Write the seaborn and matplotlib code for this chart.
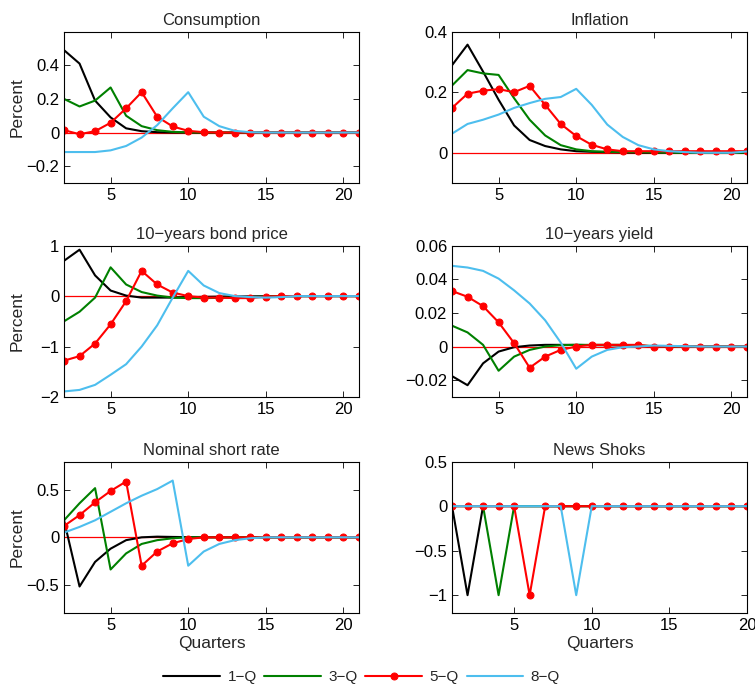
import matplotlib
import numpy as np
import pandas as pd

matplotlib.use("Agg")
import matplotlib.pyplot as plt
import seaborn as sns
from matplotlib.ticker import FuncFormatter

# horizons
quarters = list(range(2, 22))
news_quarters = list(range(1, 21))

# Consumption
cons_1q = [0.49, 0.41, 0.19, 0.09, 0.025, 0.008, 0.002, 0, 0, 0, 0, 0, 0, 0, 0, 0, 0, 0, 0, 0]
cons_3q = [0.20, 0.155, 0.19, 0.268, 0.10, 0.038, 0.014, 0.004, 0.001, 0, 0, 0, 0, 0, 0, 0, 0, 0, 0, 0]
cons_5q = [0.014, -0.01, 0.008, 0.058, 0.144, 0.24, 0.094, 0.036, 0.01, 0.002, 0, 0, 0, 0, 0, 0, 0, 0, 0, 0]
cons_8q = [-0.116, -0.116, -0.116, -0.106, -0.08, -0.03, 0.044, 0.144, 0.24, 0.094, 0.038, 0.01, 0.002, 0, 0, 0, 0, 0, 0, 0]

# Inflation
infl_1q = [0.289, 0.357, 0.268, 0.175, 0.09, 0.042, 0.022, 0.011, 0.005, 0.003, 0.002, 0.001, 0, 0, 0, 0, 0, 0, 0, 0]
infl_3q = [0.222, 0.273, 0.262, 0.257, 0.18, 0.109, 0.057, 0.025, 0.011, 0.005, 0.003, 0.002, 0.002, 0.001, 0, 0, 0, 0, 0, 0]
infl_5q = [0.148, 0.195, 0.205, 0.21, 0.20, 0.221, 0.158, 0.095, 0.055, 0.026, 0.011, 0.005, 0.005, 0.005, 0.005, 0.005, 0.005, 0.005, 0.005, 0.005]
infl_8q = [0.063, 0.095, 0.109, 0.126, 0.148, 0.164, 0.178, 0.184, 0.211, 0.158, 0.093, 0.052, 0.025, 0.011, 0.005, 0.002, 0, 0, 0, 0.004]

# 10-years bond price
bond_1q = [0.70, 0.92, 0.41, 0.11, 0.01, -0.03, -0.03, -0.03, -0.02, -0.015, -0.01, -0.008, -0.005, -0.003, -0.002, -0.001, 0, 0, 0, 0]
bond_3q = [-0.50, -0.31, -0.03, 0.57, 0.23, 0.08, 0.01, -0.03, -0.04, -0.04, -0.035, -0.03, -0.02, -0.01, -0.005, 0, 0, 0, 0, 0]
bond_5q = [-1.28, -1.19, -0.94, -0.56, -0.10, 0.50, 0.23, 0.07, 0.0, -0.03, -0.03, -0.04, -0.04, -0.01, 0, 0, 0, 0, 0, 0]
bond_8q = [-1.89, -1.86, -1.76, -1.56, -1.35, -1.00, -0.58, -0.03, 0.50, 0.21, 0.06, 0.0, -0.02, -0.03, -0.02, 0, 0, 0, 0, 0]

# 10-years yield
yld_1q = [-0.0176, -0.023, -0.010, -0.003, -0.0004, 0.0006, 0.001, 0.001, 0.001, 0.0008, 0.0008, 0.0006, 0.0004, 0.0002, 0, 0, 0, 0, 0, 0]
yld_3q = [0.0124, 0.0084, 0.001, -0.0144, -0.006, -0.002, 0.0, 0.0008, 0.001, 0.001, 0.001, 0.001, 0.0006, 0.0003, 0, 0, 0, 0, 0, 0]
yld_5q = [0.033, 0.0296, 0.024, 0.0144, 0.002, -0.0126, -0.006, -0.002, 0.0, 0.001, 0.001, 0.001, 0.001, 0, 0, 0, 0, 0, 0, 0]
yld_8q = [0.048, 0.047, 0.045, 0.0404, 0.0334, 0.0256, 0.0156, 0.0024, -0.0132, -0.006, -0.002, -0.0004, 0.0, 0.0006, 0.0004, 0.0002, 0, 0, 0, 0]

# Nominal short rate
rate_1q = [0.18, -0.52, -0.26, -0.12, -0.03, 0.0, 0.007, 0.004, 0.002, 0.001, 0, 0, 0, 0, 0, 0, 0, 0, 0, 0]
rate_3q = [0.18, 0.36, 0.52, -0.34, -0.17, -0.07, -0.03, -0.01, 0.0, 0, 0, 0, 0, 0, 0, 0, 0, 0, 0, 0]
rate_5q = [0.12, 0.235, 0.37, 0.49, 0.59, -0.30, -0.15, -0.063, -0.018, 0, 0, 0, 0, 0, 0, 0, 0, 0, 0, 0]
rate_8q = [0.05, 0.11, 0.18, 0.27, 0.36, 0.44, 0.51, 0.60, -0.30, -0.15, -0.07, -0.03, -0.01, 0, 0, 0, 0, 0, 0, 0]

# News shocks
news_1q = [0, -1, 0, 0, 0, 0, 0, 0, 0, 0, 0, 0, 0, 0, 0, 0, 0, 0, 0, 0]
news_3q = [0, 0, 0, -1, 0, 0, 0, 0, 0, 0, 0, 0, 0, 0, 0, 0, 0, 0, 0, 0]
news_5q = [0, 0, 0, 0, 0, -1, 0, 0, 0, 0, 0, 0, 0, 0, 0, 0, 0, 0, 0, 0]
news_8q = [0, 0, 0, 0, 0, 0, 0, 0, -1, 0, 0, 0, 0, 0, 0, 0, 0, 0, 0, 0]

shock_labels = ["1\u2212Q", "3\u2212Q", "5\u2212Q", "8\u2212Q"]
colors = ["black", "#008000", "#ff0000", "#4dbeee"]

panels = [
    ("Consumption", quarters, [cons_1q, cons_3q, cons_5q, cons_8q], (-0.3, 0.6), [-0.2, 0, 0.2, 0.4], (2, 21)),
    ("Inflation", quarters, [infl_1q, infl_3q, infl_5q, infl_8q], (-0.1, 0.4), [0, 0.2, 0.4], (2, 21)),
    ("10\u2212years bond price", quarters, [bond_1q, bond_3q, bond_5q, bond_8q], (-2, 1), [-2, -1, 0, 1], (2, 21)),
    ("10\u2212years yield", quarters, [yld_1q, yld_3q, yld_5q, yld_8q], (-0.03, 0.06), [-0.02, 0, 0.02, 0.04, 0.06], (2, 21)),
    ("Nominal short rate", quarters, [rate_1q, rate_3q, rate_5q, rate_8q], (-0.8, 0.8), [-0.5, 0, 0.5], (2, 21)),
    ("News Shoks", news_quarters, [news_1q, news_3q, news_5q, news_8q], (-1.2, 0.5), [-1, -0.5, 0, 0.5], (1, 20)),
]

sns.set_style("ticks")
plt.rcParams["font.family"] = ["Liberation Sans", "DejaVu Sans"]
plt.rcParams["axes.unicode_minus"] = True

fig = plt.figure(figsize=(7.55, 6.91), dpi=100)

lefts = [0.0848, 0.5987]
bottoms = [0.7352, 0.4255, 0.1129]
width, height = 0.3907, 0.2190


def fmt(v, pos):
    s = f"{v:g}"
    if s == "-0":
        s = "0"
    return s.replace("-", "\u2212")


for i, (title, xs, series, ylim, yticks, xlim) in enumerate(panels):
    row, col = divmod(i, 2)
    ax = fig.add_axes([lefts[col], bottoms[row], width, height])
    ax.axhline(0, color="red", lw=0.9, zorder=1)
    for label, vals, c in zip(shock_labels, series, colors):
        df = pd.DataFrame({"quarter": xs, "value": vals})
        if label.startswith("5"):
            sns.lineplot(data=df, x="quarter", y="value", color=c, lw=1.5,
                         marker="o", markersize=5, markeredgecolor=c,
                         label=label, ax=ax)
        else:
            sns.lineplot(data=df, x="quarter", y="value", color=c, lw=1.5,
                         label=label, ax=ax)
    ax.set_xlim(*xlim)
    ax.set_ylim(*ylim)
    ax.set_xticks([5, 10, 15, 20])
    ax.set_yticks(yticks)
    ax.yaxis.set_major_formatter(FuncFormatter(fmt))
    ax.tick_params(direction="in", top=True, right=True, labelsize=12,
                   length=4, width=0.6, colors="black")
    for sp in ax.spines.values():
        sp.set_visible(True)
        sp.set_color("black")
        sp.set_linewidth(0.8)
    ax.set_title(title, fontsize=12, pad=5)
    ax.set_ylabel("Percent" if col == 0 else "", fontsize=12.5)
    ax.yaxis.set_label_coords(-0.135, 0.5)
    ax.set_xlabel("Quarters" if row == 2 else "", fontsize=12.5, labelpad=2)
    handles, labels = ax.get_legend_handles_labels()
    ax.get_legend().remove()

fig.legend(handles, labels, loc="center", bbox_to_anchor=(0.479, 0.02),
           ncol=4, frameon=False, fontsize=11, handlelength=3.7,
           columnspacing=0.5, handletextpad=0.5)

fig.savefig("out.png", dpi=100)
